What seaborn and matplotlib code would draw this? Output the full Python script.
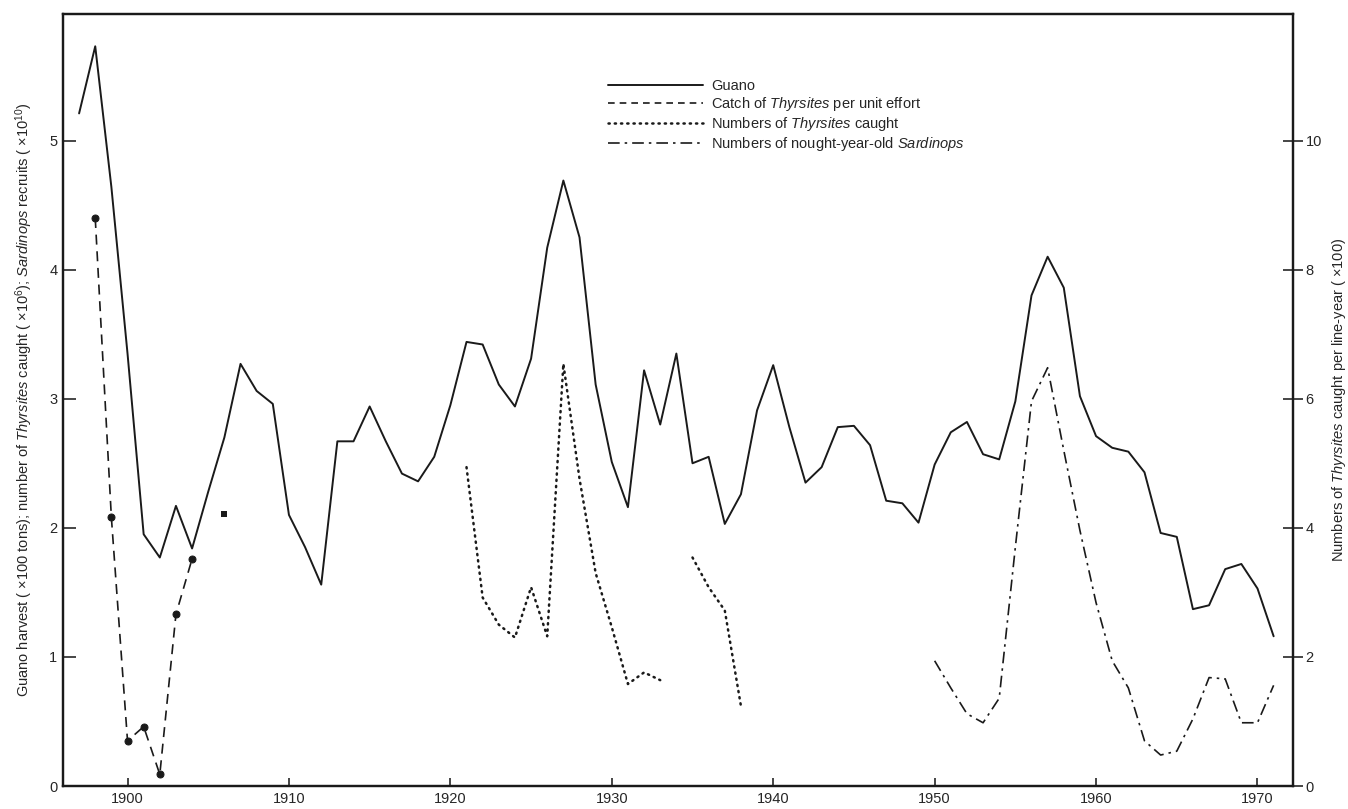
import matplotlib
matplotlib.use("Agg")
import matplotlib.pyplot as plt
import seaborn as sns
import pandas as pd

# guano harvest (x100 tons), annual
guano_years = list(range(1897, 1972))
guano = [5.21, 5.73, 4.64, 3.35, 1.95, 1.77, 2.17, 1.84, 2.28, 2.70,
         3.27, 3.06, 2.96, 2.10, 1.85, 1.56, 2.67, 2.67, 2.94, 2.67,
         2.42, 2.36, 2.55, 2.95, 3.44, 3.42, 3.11, 2.94, 3.31, 4.17,
         4.69, 4.25, 3.11, 2.51, 2.16, 3.22, 2.80, 3.35, 2.50, 2.55,
         2.03, 2.26, 2.91, 3.26, 2.78, 2.35, 2.47, 2.78, 2.79, 2.64,
         2.21, 2.19, 2.04, 2.49, 2.74, 2.82, 2.57, 2.53, 2.98, 3.80,
         4.10, 3.86, 3.02, 2.71, 2.62, 2.59, 2.43, 1.96, 1.93, 1.37,
         1.40, 1.68, 1.72, 1.53, 1.16]

# catch of Thyrsites per unit effort (x100 per line-year, right axis)
cpue_years = [1898, 1899, 1900, 1901, 1902, 1903, 1904]
cpue = [8.80, 4.16, 0.70, 0.92, 0.18, 2.66, 3.52]
cpue_extra_years = [1906]
cpue_extra = [4.22]

# numbers of Thyrsites caught (x10^6), two runs
caught_years_a = list(range(1921, 1934))
caught_a = [2.47, 1.46, 1.25, 1.15, 1.54, 1.16, 3.27, 2.38, 1.65, 1.23, 0.79, 0.88, 0.82]
caught_years_b = [1935, 1936, 1937, 1938]
caught_b = [1.77, 1.54, 1.36, 0.62]

# nought-year-old Sardinops (x10^10)
sard_years = list(range(1950, 1972))
sard = [0.97, 0.76, 0.56, 0.49, 0.68, 1.85, 2.98, 3.24, 2.60, 1.98,
        1.42, 0.97, 0.76, 0.35, 0.24, 0.27, 0.52, 0.84, 0.83, 0.49,
        0.49, 0.78]

sns.set_style("ticks")
plt.rcParams["font.family"] = ["Liberation Sans", "DejaVu Sans"]
plt.rcParams["mathtext.fontset"] = "custom"
plt.rcParams["mathtext.rm"] = "Liberation Sans"
plt.rcParams["mathtext.it"] = "Liberation Sans:italic"

fig = plt.figure(figsize=(13.48, 8.09), dpi=100)
ax = fig.add_axes([0.0467, 0.0284, 0.9125, 0.9543])
ax2 = ax.twinx()

ink = "#1a1a1a"
dots = (0, (0.5, 2.0))

sns.lineplot(x=guano_years, y=guano, ax=ax, color=ink, lw=1.4,
             label="Guano", legend=False)
sns.lineplot(x=cpue_years, y=cpue, ax=ax2, color=ink, lw=1.2,
             linestyle=(0, (6, 4)), marker="o", markersize=5,
             markeredgecolor=ink, label="Catch of $\\it{Thyrsites}$ per unit effort",
             legend=False)
sns.scatterplot(x=cpue_extra_years, y=cpue_extra, ax=ax2, color=ink,
                marker="s", s=22, linewidth=0, legend=False)
sns.lineplot(x=caught_years_a, y=caught_a, ax=ax, color=ink, lw=1.8,
             linestyle=dots, dash_capstyle="round",
             label="Numbers of $\\it{Thyrsites}$ caught", legend=False)
sns.lineplot(x=caught_years_b, y=caught_b, ax=ax, color=ink, lw=1.8,
             linestyle=dots, dash_capstyle="round", legend=False)
sns.lineplot(x=sard_years, y=sard, ax=ax, color=ink, lw=1.2,
             linestyle=(0, (7, 3, 1.5, 3)),
             label="Numbers of nought-year-old $\\it{Sardinops}$", legend=False)

ax.set_xlim(1896.0, 1972.2)
ax.set_ylim(0, 5.98)
ax2.set_ylim(0, 11.96)

ax.set_xticks(range(1900, 1971, 10))
ax.set_yticks(range(0, 6))
ax2.set_yticks(range(0, 11, 2))

ax.tick_params(axis="x", direction="in", length=6, width=1.2, labelsize=10.5, pad=4)
ax.tick_params(axis="y", direction="in", length=9, width=1.2, labelsize=10.5, pad=4)
ax2.tick_params(axis="y", direction="inout", length=14, width=1.2, labelsize=10.5, pad=2)

for a in (ax, ax2):
    for s in a.spines.values():
        s.set_linewidth(1.6)
        s.set_color(ink)

ax.set_ylabel("Guano harvest ( $\\times$100 tons); number of $\\it{Thyrsites}$ caught "
              "( $\\times$10$^{6}$); $\\it{Sardinops}$ recruits ( $\\times$10$^{10}$)",
              fontsize=10.5, labelpad=10)
ax2.set_ylabel("Numbers of $\\it{Thyrsites}$ caught per line-year ( $\\times$100)",
               fontsize=10.5, labelpad=6)

h1, l1 = ax.get_legend_handles_labels()
h2, l2 = ax2.get_legend_handles_labels()
handles = [h1[0],
           matplotlib.lines.Line2D([], [], color=ink, lw=1.2, linestyle=(0, (4, 3))),
           h1[1], h1[2]]
labels = [l1[0], l2[0], l1[1], l1[2]]
ax2.legend(handles, labels, loc="upper left", bbox_to_anchor=(602 / 1348, 1 - 73 / 809),
           bbox_transform=fig.transFigure, frameon=False, fontsize=10.5,
           handlelength=6.5, handletextpad=0.6, labelspacing=0.15, borderaxespad=0)

fig.savefig("out.png", dpi=100)
